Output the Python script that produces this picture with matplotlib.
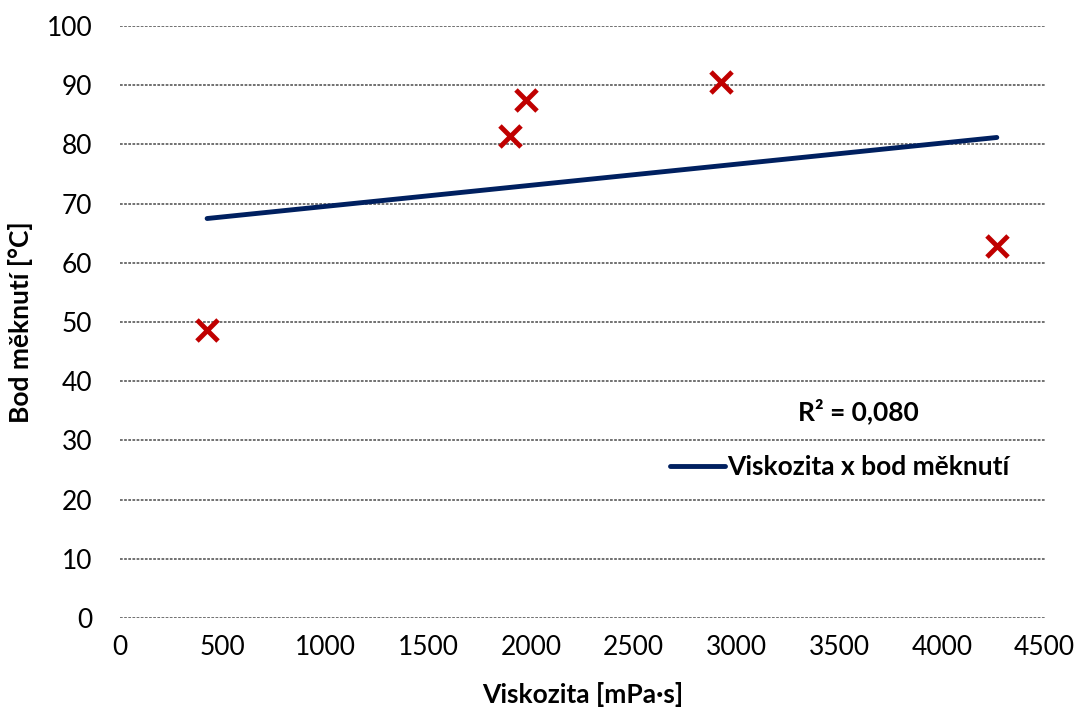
import matplotlib
matplotlib.use("Agg")
import matplotlib.pyplot as plt
import numpy as np

# Data
viskozita = [424, 1900, 1978, 2927, 4267]
bod_meknuti = [48.6, 81.4, 87.5, 90.5, 62.8]
x_ticks = [0, 500, 1000, 1500, 2000, 2500, 3000, 3500, 4000, 4500]
y_ticks = [0, 10, 20, 30, 40, 50, 60, 70, 80, 90, 100]

plt.rcParams["font.family"] = ["Lato", "DejaVu Sans"]

fig = plt.figure(figsize=(10.77, 7.12), dpi=100)
ax = fig.add_axes([0.1114, 0.132, 0.8586, 0.8315])

# Gridlines (horizontal only)
for yv in y_ticks:
    ax.axhline(yv, color="#666666", linestyle=(0, (1.5, 0.8)), linewidth=1.3, zorder=0)

# Scatter points
ax.scatter(viskozita, bod_meknuti, marker="x", s=230, color="#c00000",
           linewidths=3.5, zorder=3)

# Linear trend line
x = np.array(viskozita, dtype=float)
y = np.array(bod_meknuti, dtype=float)
k, q = np.polyfit(x, y, 1)
xs = np.array([x.min(), x.max()])
ax.plot(xs, k * xs + q, color="#002060", linewidth=3.5, solid_capstyle="round",
        label="Viskozita x bod měknutí", zorder=2)
r2 = np.corrcoef(x, y)[0, 1] ** 2

ax.text(3595, 35, "R² = " + f"{r2:.3f}".replace(".", ","), fontsize=19,
        fontweight="bold", ha="center", va="center")

ax.legend(loc="center left", bbox_to_anchor=(0.58, 0.255), frameon=False,
          prop={"size": 19, "weight": "bold"}, handlelength=2.1,
          handletextpad=0.1, borderpad=0)

ax.set_xlim(0, 4500)
ax.set_ylim(0, 100)
ax.set_xticks(x_ticks)
ax.set_yticks(y_ticks)
ax.tick_params(length=0, labelsize=19, pad=12)
ax.tick_params(axis="y", pad=20)
for s in ax.spines.values():
    s.set_visible(False)

ax.set_xlabel("Viskozita [mPa·s]", fontsize=19, fontweight="bold", labelpad=16)
ax.set_ylabel("Bod měknutí [°C]", fontsize=19, fontweight="bold", labelpad=10)

fig.savefig("out.png", dpi=100)
